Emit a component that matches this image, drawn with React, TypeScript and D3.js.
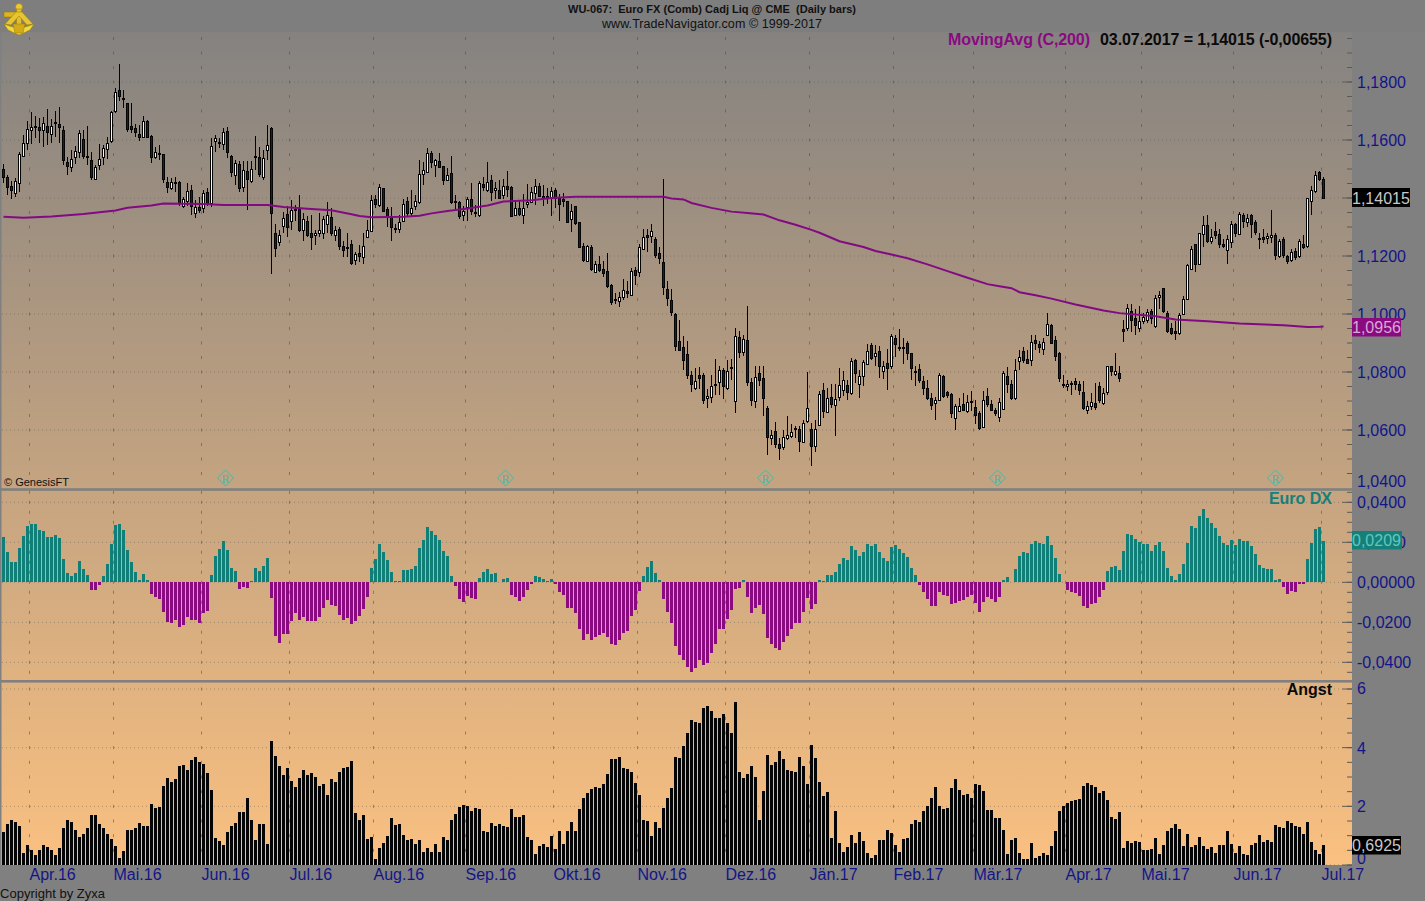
import React from "react";
import * as d3 from "d3";

// Prices in 1/10000 units
const opens = [
11500,11474,11440,11417,11451,11545,11589,11635,11646,11646,
11633,11649,11621,11662,11656,11635,11525,11506,11541,11560,
11603,11545,11531,11467,11513,11543,11568,11595,11701,11773,
11744,11727,11649,11641,11621,11612,11665,11614,11541,11554,
11552,11456,11435,11456,11456,11373,11388,11428,11348,11368,
11365,11421,11382,11595,11594,11587,11631,11545,11479,11518,
11437,11492,11460,11545,11541,11474,11564,11642,11279,11247,
11305,11345,11322,11361,11361,11288,11320,11281,11271,11279,
11281,11310,11334,11272,11292,11236,11230,11241,11186,11209,
11197,11266,11287,11398,11375,11436,11363,11333,11296,11294,
11321,11390,11347,11372,11387,11482,11490,11556,11514,11526,
11510,11462,11485,11390,11387,11343,11370,11395,11352,11341,
11447,11429,11462,11429,11429,11409,11441,11439,11341,11367,
11342,11379,11387,11416,11442,11408,11406,11400,11427,11400,
11398,11388,11326,11372,11317,11234,11184,11232,11145,11174,
11154,11147,11100,11051,11046,11060,11078,11065,11151,11146,
11225,11271,11270,11257,11209,11179,11087,11050,11001,10907,
10886,10863,10788,10746,10790,10788,10709,10714,10758,10767,
10808,10746,10818,10699,10919,10870,10912,10767,10700,10797,
10780,10677,10572,10597,10552,10542,10572,10581,10606,10605,
10560,10630,10604,10544,10618,10739,10661,10714,10687,10714,
10737,10755,10726,10840,10758,10785,10829,10893,10854,10873,
10803,10831,10820,10917,10886,10886,10900,10866,10804,10811,
10769,10746,10712,10693,10705,10785,10731,10724,10643,10666,
10688,10667,10700,10680,10657,10611,10716,10688,10670,10645,
10673,10785,10757,10709,10838,10873,10845,10841,10912,10895,
10881,10926,10963,10912,10866,10760,10752,10762,10768,10757,
10732,10668,10682,10693,10753,10693,10730,10819,10792,10795,
10949,10952,11011,10987,10951,10975,10979,11011,10960,11059,
11090,11002,10953,10943,10933,11000,11052,11156,11240,11171,
11276,11308,11251,11285,11277,11243,11220,11248,11309,11276,
11342,11317,11341,11318,11263,11266,11262,11266,11273,11200,
11257,11200,11186,11218,11200,11243,11234,11388,11423,11490,
11467];

const highs = [
11518,11480,11457,11468,11560,11618,11667,11695,11683,11675,
11681,11706,11672,11701,11715,11649,11543,11566,11580,11633,
11635,11649,11560,11514,11587,11583,11612,11701,11778,11862,
11773,11727,11727,11656,11652,11684,11669,11618,11577,11583,
11552,11474,11468,11474,11457,11405,11451,11445,11394,11405,
11428,11434,11606,11618,11606,11641,11646,11549,11531,11527,
11529,11526,11526,11614,11577,11566,11651,11646,11311,11288,
11353,11373,11394,11376,11410,11348,11338,11342,11290,11348,
11338,11387,11365,11302,11299,11250,11279,11255,11215,11238,
11280,11324,11410,11410,11448,11436,11370,11370,11312,11341,
11398,11404,11429,11410,11531,11525,11571,11563,11536,11554,
11512,11502,11544,11410,11390,11372,11404,11450,11375,11459,
11471,11523,11479,11456,11462,11467,11493,11441,11390,11393,
11413,11447,11439,11467,11450,11444,11436,11439,11433,11413,
11416,11390,11379,11372,11318,11246,11238,11238,11184,11200,
11184,11211,11103,11073,11077,11119,11115,11157,11163,11241,
11292,11292,11312,11264,11232,11464,11115,11085,11004,10981,
10925,10906,10803,10814,10817,10797,10742,10788,10845,10820,
10814,10843,10845,10952,10940,10929,11029,10780,10820,10820,
10820,10682,10601,10627,10573,10601,10650,10619,10613,10613,
10636,10799,10624,10634,10734,10762,10745,10757,10757,10814,
10803,10774,10848,10845,10808,10843,10898,10900,10894,10889,
10837,10880,10932,10928,10948,10916,10906,10866,10820,10826,
10785,10774,10728,10714,10795,10790,10734,10726,10688,10711,
10728,10722,10734,10705,10665,10734,10745,10705,10676,10711,
10803,10818,10774,10845,10877,10887,10877,10926,10929,10906,
10918,11004,10967,10923,10868,10791,10771,10768,10780,10768,
10768,10699,10728,10762,10765,10745,10820,10822,10864,10822,
10981,11033,11033,11018,11029,11004,11016,11016,11067,11079,
11090,11010,10969,10975,11004,11062,11171,11234,11242,11280,
11338,11340,11292,11317,11292,11257,11274,11321,11315,11352,
11347,11344,11346,11324,11278,11292,11280,11357,11278,11257,
11266,11205,11225,11228,11260,11271,11401,11441,11493,11493,
11474];

const lows = [
11453,11411,11398,11405,11422,11541,11564,11587,11606,11589,
11577,11583,11591,11612,11591,11515,11480,11490,11518,11537,
11536,11514,11462,11462,11497,11514,11534,11589,11692,11733,
11710,11626,11623,11610,11595,11606,11610,11520,11534,11531,
11451,11417,11428,11419,11371,11365,11371,11342,11330,11348,
11348,11373,11368,11557,11572,11566,11537,11474,11445,11419,
11422,11359,11451,11497,11474,11462,11531,11138,11196,11235,
11279,11267,11290,11319,11284,11250,11267,11219,11238,11265,
11258,11279,11269,11253,11221,11198,11196,11169,11169,11180,
11172,11264,11284,11364,11370,11352,11301,11253,11278,11280,
11318,11338,11338,11358,11381,11444,11487,11505,11473,11502,
11444,11459,11381,11358,11329,11321,11321,11341,11335,11335,
11425,11421,11390,11398,11395,11398,11404,11338,11338,11338,
11312,11367,11384,11375,11402,11372,11379,11338,11367,11321,
11370,11318,11284,11307,11226,11180,11180,11149,11140,11145,
11128,11088,11031,11034,11023,11048,11054,11062,11100,11128,
11220,11215,11246,11192,11172,11065,11027,10992,10871,10871,
10808,10776,10730,10739,10742,10688,10675,10693,10722,10722,
10707,10739,10772,10659,10848,10854,10751,10682,10675,10751,
10647,10515,10550,10538,10498,10530,10567,10573,10573,10523,
10556,10624,10475,10523,10613,10642,10659,10676,10581,10699,
10716,10705,10722,10762,10711,10751,10826,10840,10820,10780,
10776,10739,10811,10852,10872,10826,10843,10774,10753,10762,
10722,10703,10670,10634,10703,10711,10711,10642,10601,10661,
10665,10659,10665,10619,10599,10607,10680,10665,10647,10629,
10670,10728,10702,10705,10808,10831,10826,10820,10877,10866,
10857,10923,10895,10837,10765,10744,10734,10722,10739,10719,
10670,10656,10668,10670,10693,10687,10722,10785,10785,10765,
10903,10941,10937,10929,10937,10964,10970,10964,10952,11016,
11004,10935,10929,10912,10929,10995,11048,11151,11144,11169,
11232,11246,11240,11257,11227,11228,11174,11228,11266,11271,
11298,11301,11263,11274,11225,11246,11243,11246,11186,11194,
11194,11171,11179,11186,11194,11225,11228,11340,11418,11459,
11399];

const closes = [
11474,11437,11426,11458,11552,11589,11639,11644,11649,11635,
11658,11628,11649,11658,11646,11531,11511,11534,11561,11623,
11545,11541,11474,11506,11534,11572,11591,11697,11764,11750,
11742,11639,11639,11628,11610,11665,11612,11543,11557,11552,
11467,11437,11456,11451,11382,11396,11425,11371,11368,11357,
11417,11380,11580,11606,11589,11627,11559,11488,11522,11433,
11495,11467,11499,11543,11483,11537,11582,11348,11227,11272,
11330,11299,11359,11357,11290,11328,11273,11267,11279,11290,
11327,11340,11281,11290,11235,11221,11227,11177,11207,11200,
11234,11289,11393,11379,11439,11356,11338,11301,11293,11316,
11381,11347,11367,11388,11482,11496,11556,11525,11531,11508,
11462,11481,11387,11387,11338,11356,11395,11356,11349,11450,
11439,11454,11421,11436,11401,11441,11432,11338,11367,11344,
11367,11387,11420,11443,11408,11400,11400,11425,11400,11381,
11390,11318,11356,11315,11230,11186,11234,11156,11174,11151,
11142,11096,11043,11048,11060,11082,11073,11149,11135,11232,
11264,11266,11285,11203,11193,11094,11055,11008,10889,10877,
10843,10788,10760,10769,10781,10705,10716,10751,10755,10808,
10753,10804,10813,10925,10870,10914,10765,10705,10783,10772,
10709,10576,10583,10551,10538,10576,10583,10592,10604,10561,
10624,10676,10546,10604,10723,10664,10711,10688,10707,10755,
10772,10732,10838,10797,10785,10834,10873,10847,10866,10820,
10820,10813,10925,10896,10882,10882,10866,10813,10800,10772,
10744,10712,10687,10703,10790,10716,10719,10657,10684,10683,
10670,10697,10696,10652,10606,10704,10691,10670,10657,10696,
10797,10760,10711,10808,10852,10843,10831,10904,10900,10885,
10904,10967,10900,10854,10781,10758,10759,10758,10757,10737,
10677,10682,10696,10679,10705,10728,10819,10803,10804,10778,
10940,11020,10981,10963,10976,10988,11006,10986,11056,11066,
11009,10942,10933,10935,10997,11052,11169,11223,11174,11278,
11308,11251,11265,11271,11243,11236,11257,11312,11278,11344,
11319,11332,11312,11283,11257,11260,11269,11273,11204,11250,
11202,11182,11215,11195,11250,11230,11399,11428,11481,11467,
11401.5];

// MovingAvg (C,200), read at these bar numbers
const maBars = [0,5,12,20,28,31,37,40,50,55,66,70,76,82,87,89,92,100,104,107,111,116,121,125,132,137,143,165,167,170,172,177,182,186,190,194,198,202,204,209,215,218,222,226,231,236,241,246,249,252,254,258,262,268,275,279,288,293,301,309,320,326,329,330];
const maValues = [11335,11332,11336,11345,11357,11366,11374,11381,11379,11376,11376,11369,11363,11358,11344,11338,11334,11335,11339,11347,11355,11364,11374,11388,11392,11400,11404,11404,11398,11395,11383,11366,11353,11348,11343,11323,11308,11290,11280,11251,11231,11217,11205,11192,11171,11148,11125,11103,11096,11089,11075,11065,11053,11033,11012,11003,10992,10981,10975,10967,10961,10955,10956,10957];

// Euro DX in thousandths
const euroDx = [
22.7,15.2,10.2,10.2,17.2,23.2,28.2,29.2,29.2,26.2,25.7,22.7,22.7,23.7,22.2,11.7,4.7,3.2,4.7,10.7,
6.7,3.7,-3.8,-3.8,-1.3,3.2,9.2,19.2,28.7,29.2,26.2,16.2,10.2,5.2,1.2,4.2,1.2,-5.8,-7.3,-8.3,
-14.8,-19.8,-20.3,-18.8,-22.3,-21.3,-17.3,-18.8,-18.8,-20.3,-15.3,-14.3,3.7,13.2,16.7,20.7,16.2,7.2,5.7,-3.3,
-2.3,-2.8,0.7,7.2,5.7,8.2,12.2,-7.8,-26.8,-30.3,-25.8,-25.8,-19.3,-15.3,-18.8,-17.3,-19.3,-19.3,-19.3,-17.3,
-12.8,-8.8,-11.3,-11.8,-16.3,-18.8,-17.8,-20.8,-19.3,-16.8,-13.3,-7.3,7.2,11.7,19.2,15.2,11.2,5.2,0.7,0.7,
6.2,6.2,6.7,8.2,17.2,21.2,27.7,25.7,23.7,21.2,15.7,13.2,3.2,-1.8,-8.3,-9.8,-6.8,-7.8,-8.3,2.2,
5.2,6.7,4.2,4.7,0.2,1.7,2.2,-6.3,-7.3,-9.3,-7.3,-3.8,-0.8,3.2,2.7,1.7,0.7,1.7,-0.8,-4.8,
-6.3,-12.8,-12.8,-15.3,-23.3,-28.8,-25.8,-28.8,-27.3,-26.3,-25.3,-27.3,-30.8,-31.3,-28.8,-25.3,-24.3,-16.8,-13.8,-4.3,
3.2,7.7,10.7,4.7,1.2,-8.3,-14.8,-20.3,-31.8,-36.3,-38.8,-42.3,-44.8,-42.8,-39,-41.3,-40.3,-35.3,-30.8,-23.3,
-23.3,-18.3,-13.8,-3.3,-2.8,1.2,-7.3,-15.3,-12.8,-11.3,-15.8,-27.8,-30.8,-32.8,-33.8,-29.8,-26.8,-23.3,-20.3,-20.3,
-14.8,-7.8,-13.3,-10.8,1.2,0.7,3.7,3.7,5.2,9.2,12.2,11.2,18.2,16.2,13.2,15.2,19.2,18.2,19.2,15.2,
12.2,10.7,17.7,18.7,16.7,14.7,12.7,7.2,3.7,-1.3,-4.8,-8.3,-11.8,-11.8,-4.8,-6.3,-6.8,-10.8,-10.3,-9.3,
-8.8,-7.3,-6.3,-10.3,-14.8,-9.8,-7.3,-8.3,-9.8,-7.3,1.2,2.7,0.2,6.7,13.2,15.2,14.7,19.2,20.7,19.7,
19.2,23.2,18.7,12.2,4.2,0.2,-3.8,-4.8,-5.3,-6.8,-11.8,-12.8,-10.8,-10.3,-7.3,-3.8,5.7,7.7,8.2,6.2,
15.7,24.2,23.7,21.7,20.2,19.2,19.2,15.7,18.7,20.2,15.7,7.2,3.2,1.2,4.2,9.2,19.7,28.2,27.2,33.2,
36.7,32.2,29.7,27.2,23.2,19.7,18.7,21.2,18.7,21.7,20.7,20.7,18.2,14.2,8.7,7.2,6.7,6.7,1.2,1.7,
-2.3,-5.8,-4.3,-4.8,-0.8,-0.8,11.7,19.7,26.7,27.7,20.9];

const angst = [
1.12,1.40,1.53,1.47,1.33,.41,.68,.51,.34,.51,.68,.61,.51,.34,.58,1.26,1.53,1.47,1.19,.95,
1.06,1.26,1.70,1.70,1.40,1.26,1.06,.89,.65,.24,.48,1.19,1.19,1.26,1.43,1.33,1.33,2.08,1.94,1.98,
2.69,2.97,2.83,2.93,3.37,3.41,3.24,3.58,3.68,3.51,3.44,3.14,2.56,.92,.82,.68,1.12,1.33,1.43,1.81,
1.81,2.28,1.53,.85,1.40,1.40,.72,4.23,3.72,3.37,3.07,3.31,2.86,2.66,2.97,3.24,3.07,3.14,3.0,2.69,
2.76,2.39,2.93,2.83,3.17,3.31,3.34,3.55,1.77,1.53,1.70,.89,.95,.20,.58,.75,.99,1.60,1.36,1.40,
1.02,.85,.89,.72,.85,.44,.58,.44,.72,.44,.95,.85,1.53,1.74,1.98,2.05,2.01,1.84,1.94,1.91,
1.16,1.12,1.43,1.33,1.40,1.33,1.30,1.91,1.64,1.64,1.70,.95,.85,.38,.65,.72,.61,.99,.55,1.16,
.72,1.16,1.47,1.16,1.91,2.28,2.45,2.59,2.66,2.63,2.76,3.10,3.61,3.61,3.68,3.31,3.27,3.17,2.80,2.39,
1.53,1.50,.99,1.47,1.26,1.94,2.28,2.63,3.68,3.65,4.06,4.50,4.94,4.88,4.84,5.35,5.42,5.25,5.01,5.01,
5.15,4.84,4.50,5.56,3.17,2.97,3.10,3.37,3.0,1.53,2.52,3.75,3.41,3.51,3.89,3.61,3.24,3.20,3.17,3.68,
3.37,2.76,4.09,3.65,2.83,2.35,2.49,.92,1.84,.75,.44,.61,1.02,.75,1.12,.82,.41,.24,.34,.85,
.85,1.19,1.09,.68,.44,.89,.92,1.40,1.53,1.47,1.84,2.01,2.28,2.66,2.01,1.91,1.94,2.63,2.93,2.56,
2.39,2.42,2.28,2.76,2.73,2.52,1.88,1.88,1.60,1.60,1.19,.38,.85,.92,.41,.20,.20,.75,.24,.31,
.41,.34,.65,1.16,1.84,2.01,2.11,2.18,2.22,2.25,2.69,2.80,2.73,2.66,2.45,2.52,2.22,1.64,1.57,1.81,
.58,.82,.75,.82,.78,.51,.51,.55,.92,.38,.68,1.16,1.26,1.40,1.23,.65,1.06,.61,.68,.95,
.65,.55,.61,.41,.68,.68,1.16,.72,.41,.65,.38,.34,.68,.75,1.02,.78,.85,.78,1.36,1.30,
1.26,1.50,1.43,1.33,1.30,1.06,1.47,.78,.51,.38,.6925];

const monthLabels = ["Apr.16","Mai.16","Jun.16","Jul.16","Aug.16","Sep.16","Okt.16","Nov.16","Dez.16","Jän.17","Feb.17","Mär.17","Apr.17","Mai.17","Jun.17","Jul.17"];
const monthBars = [6.5,27.5,49.5,71.5,92.5,115.5,137.5,158.5,180.5,201.5,222.5,242.5,265.5,284.5,307.5,329.5];
const priceTicks = [1.18,1.16,1.14,1.12,1.10,1.08,1.06,1.04];
const priceTickLabels = ["1,1800","1,1600","1,1400","1,1200","1,1000","1,0800","1,0600","1,0400"];
const dxTicks = [0.04,0.02,0,-0.02,-0.04];
const dxTickLabels = ["0,0400","0,0200","0,00000","-0,0200","-0,0400"];
const angstTicks = [6,4,2,0];
const angstTickLabels = ["6","4","2","0"];
const markerBars = [55.5,125.5,190.5,248.5,318];

const FONT = "'Liberation Sans', Arial, sans-serif";
const NAVY = "#14148a";
const TEAL = "#0f7f78";
const MAGENTA = "#8a0a80";
const GRID = "#4c4c4c";

const x = d3.scaleLinear().domain([0, 330]).range([3.5, 1323.5]);
const yP = d3.scaleLinear().domain([1.18, 1.04]).range([82, 488]);
const yD = d3.scaleLinear().domain([0.04, -0.04]).range([502.3, 662.3]);
const yA = d3.scaleLinear().domain([6, 0]).range([689, 865]);

const seq = (a: number, b: number, s: number) => d3.range(Math.round((b - a) / s) + 1).map((k) => a + k * s);
const minorP = seq(1.04, 1.195, 0.005);
const minorD = seq(-0.045, 0.045, 0.005);
const minorA = seq(0, 6, 0.5);
const minorYs = [
  ...minorP.map((v) => yP(v)).filter((y) => y > 33 && y < 487),
  ...minorD.map((v) => yD(v)),
  ...minorA.map((v) => yA(v)).filter((y) => y < 864),
];
const minorTickYs = [
  ...minorP.map((v) => yP(v)).filter((y) => y > 33 && y < 487),
  ...minorD.map((v) => yD(v)),
  ...minorA.map((v) => yA(v)).filter((y) => y > 682),
];
const majorYs = [
  ...priceTicks.slice(0, 7).map((v) => yP(v)),
  ...dxTicks.map((v) => yD(v)),
  ...angstTicks.map((v) => yA(v)),
];
const crisp = (v: number) => Math.round(v) + 0.5;

const maLine = d3.line<number>().x((_, i) => x(maBars[i])).y((v) => yP(v / 10000));

function Candles() {
  return (
    <g>
      {closes.map((c, i) => {
        const cx = Math.round(x(i) - 0.5) + 0.5;
        const o = opens[i] / 10000;
        const cl = c / 10000;
        const top = crisp(yP(Math.max(o, cl)));
        const bot = Math.max(crisp(yP(Math.min(o, cl))), top + 1);
        return (
          <g key={i}>
            <line x1={cx} x2={cx} y1={Math.round(yP(highs[i] / 10000))} y2={Math.round(yP(lows[i] / 10000))} stroke="#050505" strokeWidth={1} />
            <rect x={cx - 1} y={top} width={2} height={bot - top} fill={c >= opens[i] ? "#f7f7f2" : "#4f0d12"} stroke="#050505" strokeWidth={1} />
          </g>
        );
      })}
    </g>
  );
}

function Logo() {
  return (
    <g stroke="#9c7a00" strokeWidth={0.5}>
      <rect x={4} y={12} width={13} height={5} fill="#d9b52a" />
      <circle cx={19} cy={7} r={3.5} fill="#e8cb3a" />
      <rect x={16.5} y={9} width={5} height={16} fill="#e2bf30" />
      <path d="M5 24 L16 12 L22 12 L33 24 L27 25 L19 16 L11 25 Z" fill="#e6c530" />
      <path d="M4 24 Q19 31 34 24 L30 30 Q24 33 19 35 Q14 33 8 30 Z" fill="#f0d83e" />
      <path d="M13 24 L25 24 L23 33 L15 33 Z" fill="#d4aa18" />
    </g>
  );
}

export default function App() {
  return (
    <svg width={1425} height={901} viewBox="0 0 1425 901" style={{ position: "absolute", left: 0, top: 0, display: "block" }} fontFamily={FONT}>
      <defs>
        <linearGradient id="bg" gradientUnits="userSpaceOnUse" x1={0} x2={0} y1={0} y2={865}>
          <stop offset="0" stopColor="#808080" />
          <stop offset="1" stopColor="#fac080" />
        </linearGradient>
      </defs>
      <rect width={1425} height={901} fill="#808080" />
      <rect x={0} y={32} width={1352} height={833} fill="url(#bg)" />
      <rect x={0} y={0} width={1425} height={32} fill="#7e7e7e" />
      <rect x={0} y={32} width={1.5} height={833} fill="#808080" />

      {/* grid */}
      <g stroke={GRID}>
        {majorYs.map((y, i) => (
          <line key={i} x1={2} x2={1342} y1={y} y2={y} strokeWidth={1} strokeDasharray="1 3" opacity={0.4} />
        ))}
        {monthBars.map((b, i) =>
          minorYs.map((y, j) => (
            <line key={`${i}-${j}`} x1={x(b)} x2={x(b)} y1={y - 1.5} y2={y + 1.5} strokeWidth={1} opacity={0.55} />
          ))
        )}
      </g>

      {/* axis ticks */}
      <g stroke="#5a5a5a" strokeWidth={1}>
        {minorTickYs.map((y, i) => (
          <line key={i} x1={1347} x2={1352} y1={y} y2={y} />
        ))}
        {majorYs.map((y, i) => (
          <line key={i} x1={1342} x2={1352} y1={y} y2={y} />
        ))}
      </g>

      {/* Euro DX */}
      <g shapeRendering="crispEdges">
        {euroDx.map((v, i) => {
          const val = v / 1000;
          const y0 = yD(0);
          const y1 = yD(val);
          return <rect key={i} x={Math.round(x(i) - 0.5) - 1} width={3} y={Math.min(y0, y1)} height={Math.abs(y1 - y0)} fill={v >= 0 ? TEAL : MAGENTA} />;
        })}
      </g>

      {/* Angst */}
      <g shapeRendering="crispEdges">
        {angst.map((v, i) => (
          <rect key={i} x={Math.round(x(i) - 0.5) - 1} width={3} y={yA(v)} height={yA(0) - yA(v)} fill="#050505" />
        ))}
      </g>

      <Candles />
      <path d={maLine(maValues) || ""} fill="none" stroke="#830a82" strokeWidth={2} />

      {/* panel separators */}
      <rect x={0} y={488.2} width={1352} height={2.6} fill="#808080" />
      <rect x={0} y={680} width={1352} height={2.6} fill="#808080" />

      {/* markers */}
      <g>
        {markerBars.map((b, i) => {
          const cx = x(b);
          return (
            <g key={i} transform={`translate(${cx},478)`}>
              <path d="M0 -8 L8 0 L0 8 L-8 0 Z" fill="none" stroke="#3cbcae" strokeWidth={1} />
              <text textAnchor="middle" y={4.5} fontSize={12} fontFamily="'Liberation Serif', serif" fill="#3cbcae">R</text>
            </g>
          );
        })}
      </g>

      {/* axis labels */}
      <g fontSize={16} fill={NAVY}>
        {priceTicks.map((v, i) => (
          <text key={i} x={1357} y={(v === 1.04 ? 481 : yP(v)) + 6}>{priceTickLabels[i]}</text>
        ))}
        {dxTicks.map((v, i) => (
          <text key={i} x={1357} y={yD(v) + 6}>{dxTickLabels[i]}</text>
        ))}
        {angstTicks.map((v, i) => (
          <text key={i} x={1357} y={(v === 0 ? 858 : v === 6 ? 688 : yA(v)) + 6}>{angstTickLabels[i]}</text>
        ))}
        {monthLabels.map((m, i) => (
          <text key={i} x={x(monthBars[i])} y={880}>{m}</text>
        ))}
      </g>

      {/* value tags */}
      <g fontSize={16}>
        <rect x={1352} y={188} width={58} height={19} fill="#000" />
        <text x={1352} y={204} fill="#c8c8c8">1,14015</text>
        <rect x={1352} y={318} width={49} height={18.5} fill={MAGENTA} />
        <text x={1352} y={333} fill="#d9a6d6">1,0956</text>
        <rect x={1352} y={531} width={50} height={18.5} fill="#15807a" />
        <text x={1352} y={546} fill="#62c6be">0,0209</text>
        <rect x={1352} y={836} width={49} height={18.5} fill="#000" />
        <text x={1352} y={851} fill="#c8c8c8">0,6925</text>
      </g>

      {/* titles */}
      <text x={568} y={13} fontSize={11} fontWeight={700} fill="#111" textLength={288} xmlSpace="preserve">WU-067:  Euro FX (Comb) Cadj Liq @ CME  (Daily bars)</text>
      <text x={602} y={28} fontSize={12.5} fill="#111" textLength={220}>www.TradeNavigator.com © 1999-2017</text>
      <text x={948} y={45} fontSize={16} fontWeight={700} fill="#8a0a80" textLength={142}>MovingAvg (C,200)</text>
      <text x={1100} y={45} fontSize={16} fontWeight={700} fill="#0a0a0a" textLength={232}>03.07.2017 = 1,14015 (-0,00655)</text>
      <text x={1332} y={504} fontSize={16} fontWeight={700} fill="#15807a" textAnchor="end">Euro DX</text>
      <text x={1332} y={695} fontSize={16} fontWeight={700} fill="#0a0a0a" textAnchor="end">Angst</text>
      <text x={4} y={486} fontSize={11} fill="#111">© GenesisFT</text>
      <text x={0} y={898} fontSize={13} fill="#111" textLength={105}>Copyright by Zyxa</text>
      <Logo />
    </svg>
  );
}
